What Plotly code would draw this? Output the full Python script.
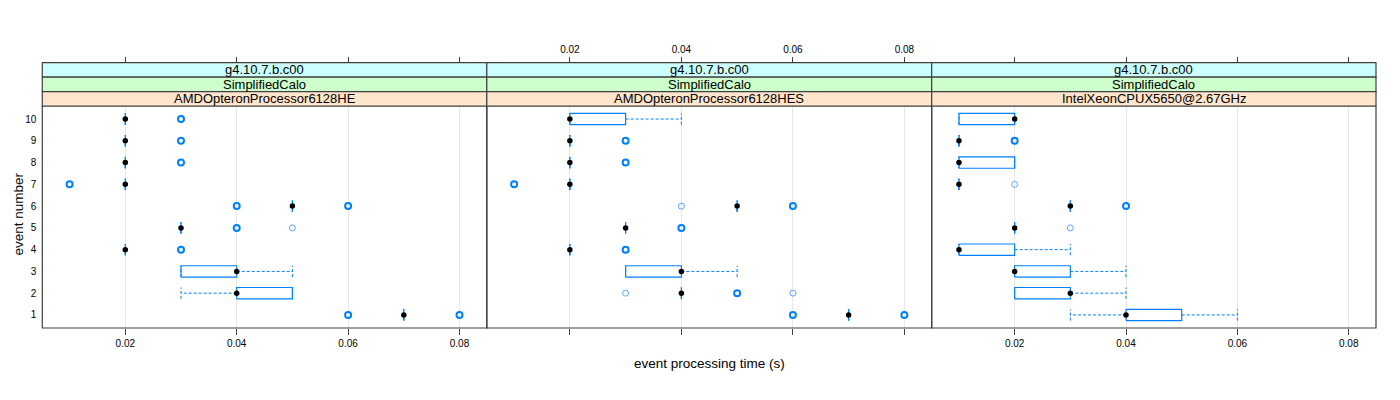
import plotly.graph_objects as go

# ---------------- data ----------------
events = [1, 2, 3, 4, 5, 6, 7, 8, 9, 10]
tick_vals = [0.02, 0.04, 0.06, 0.08]
tick_text = ["0.02", "0.04", "0.06", "0.08"]
strip_top = "g4.10.7.b.c00"
strip_mid = "SimplifiedCalo"
panel_names = ["AMDOpteronProcessor6128HE", "AMDOpteronProcessor6128HES", "IntelXeonCPUX5650@2.67GHz"]

# panel 1: AMDOpteronProcessor6128HE  (per event 1..10)
p1_lo  = [0.07, 0.03, 0.03, 0.02, 0.03, 0.05, 0.02, 0.02, 0.02, 0.02]
p1_q1  = [0.07, 0.04, 0.03, 0.02, 0.03, 0.05, 0.02, 0.02, 0.02, 0.02]
p1_med = [0.07, 0.04, 0.04, 0.02, 0.03, 0.05, 0.02, 0.02, 0.02, 0.02]
p1_q3  = [0.07, 0.05, 0.04, 0.02, 0.03, 0.05, 0.02, 0.02, 0.02, 0.02]
p1_hi  = [0.07, 0.05, 0.05, 0.02, 0.03, 0.05, 0.02, 0.02, 0.02, 0.02]
p1_out_event = [1, 1, 4, 5, 5, 6, 6, 7, 8, 9, 10]
p1_out_value = [0.06, 0.08, 0.03, 0.04, 0.05, 0.04, 0.06, 0.01, 0.03, 0.03, 0.03]
p1_out_count = [2, 2, 2, 2, 1, 2, 2, 2, 2, 2, 2]

# panel 2: AMDOpteronProcessor6128HES
p2_lo  = [0.07, 0.04, 0.03, 0.02, 0.03, 0.05, 0.02, 0.02, 0.02, 0.02]
p2_q1  = [0.07, 0.04, 0.03, 0.02, 0.03, 0.05, 0.02, 0.02, 0.02, 0.02]
p2_med = [0.07, 0.04, 0.04, 0.02, 0.03, 0.05, 0.02, 0.02, 0.02, 0.02]
p2_q3  = [0.07, 0.04, 0.04, 0.02, 0.03, 0.05, 0.02, 0.02, 0.02, 0.03]
p2_hi  = [0.07, 0.04, 0.05, 0.02, 0.03, 0.05, 0.02, 0.02, 0.02, 0.04]
p2_out_event = [1, 1, 2, 2, 2, 4, 5, 6, 6, 7, 8, 9]
p2_out_value = [0.06, 0.08, 0.03, 0.05, 0.06, 0.03, 0.04, 0.04, 0.06, 0.01, 0.03, 0.03]
p2_out_count = [2, 2, 1, 2, 1, 2, 2, 1, 2, 2, 2, 2]

# panel 3: IntelXeonCPUX5650@2.67GHz
p3_lo  = [0.03, 0.02, 0.02, 0.01, 0.02, 0.03, 0.01, 0.01, 0.01, 0.01]
p3_q1  = [0.04, 0.02, 0.02, 0.01, 0.02, 0.03, 0.01, 0.01, 0.01, 0.01]
p3_med = [0.04, 0.03, 0.02, 0.01, 0.02, 0.03, 0.01, 0.01, 0.01, 0.02]
p3_q3  = [0.05, 0.03, 0.03, 0.02, 0.02, 0.03, 0.01, 0.02, 0.01, 0.02]
p3_hi  = [0.06, 0.04, 0.04, 0.03, 0.02, 0.03, 0.01, 0.02, 0.01, 0.02]
p3_out_event = [5, 6, 7, 9]
p3_out_value = [0.03, 0.04, 0.02, 0.02]
p3_out_count = [1, 2, 1, 2]

panels = [
    (p1_lo, p1_q1, p1_med, p1_q3, p1_hi, p1_out_event, p1_out_value, p1_out_count),
    (p2_lo, p2_q1, p2_med, p2_q3, p2_hi, p2_out_event, p2_out_value, p2_out_count),
    (p3_lo, p3_q1, p3_med, p3_q3, p3_hi, p3_out_event, p3_out_value, p3_out_count),
]

# ---------------- style ----------------
OFF = 8  # default page body margin
W, H = 1400 - OFF, 400 - OFF
FONT = "Liberation Sans, Arial, Helvetica, sans-serif"
BLUE = "#0080ff"
FRAME = "#404040"
HALF = 0.26  # half box height in y units
XR = [0.0051, 0.0849]
YR = [0.4, 10.6]
px_edges = [v - OFF for v in [42.3, 486.8, 931.7, 1376.0]]
panel_top, panel_bot = 106.0 - OFF, 328.0 - OFF
strip_edges = [v - OFF for v in [62.7, 77.2, 91.6, 106.0]]
strip_cols = ["#ccffff", "#ccffcc", "#ffe5cc"]

ydom = [1 - panel_bot / H, 1 - panel_top / H]

fig = go.Figure()
layout = dict(
    width=W, height=H, margin=dict(l=0, r=0, t=0, b=0),
    paper_bgcolor="white", plot_bgcolor="white", showlegend=False,
    font=dict(family=FONT, size=10, color="black"),
)
shapes = []
annotations = []

for i, (lo, q1, med, q3, hi, oe, ov, oc) in enumerate(panels):
    n = i + 1
    xa = "x" if n == 1 else f"x{n}"
    ya = "y" if n == 1 else f"y{n}"
    xdom = [px_edges[i] / W, px_edges[i + 1] / W]
    layout["xaxis" if n == 1 else f"xaxis{n}"] = dict(
        domain=xdom, anchor=ya, range=XR, tickvals=tick_vals, ticktext=tick_text,
        showgrid=True, gridcolor="#e8e8e8", gridwidth=1, zeroline=False, showline=False,
        ticks="outside", ticklen=6, tickcolor=FRAME, showticklabels=(n != 2),
        tickfont=dict(size=10), fixedrange=True,
    )
    layout["yaxis" if n == 1 else f"yaxis{n}"] = dict(
        domain=ydom, anchor=xa, range=YR, tickvals=events, ticktext=[str(e) for e in events],
        showgrid=False, zeroline=False, showline=False,
        ticks="outside" if n == 1 else "", ticklen=3, tickcolor="rgba(0,0,0,0)",
        showticklabels=(n == 1), tickfont=dict(size=10), fixedrange=True,
    )
    # top axis
    tn = n + 3
    layout[f"xaxis{tn}"] = dict(
        overlaying=xa, side="top", anchor="free", position=1 - strip_edges[0] / H,
        range=XR, tickvals=tick_vals, ticktext=tick_text, showgrid=False, zeroline=False,
        showline=False, ticks="outside", ticklen=6, tickcolor=FRAME,
        showticklabels=(n == 2), tickfont=dict(size=10), fixedrange=True,
    )
    fig.add_trace(go.Scatter(x=[None], y=[None], xaxis=f"x{tn}", yaxis=ya,
                             mode="markers", hoverinfo="skip", showlegend=False))

    # boxes and whiskers
    bx, by = [], []
    wx, wy = [], []
    for k, ev in enumerate(events):
        bx += [q1[k], q3[k], q3[k], q1[k], q1[k], None]
        by += [ev - HALF, ev - HALF, ev + HALF, ev + HALF, ev - HALF, None]
        wx += [q3[k], hi[k], None, hi[k], hi[k], None,
               q1[k], lo[k], None, lo[k], lo[k], None]
        wy += [ev, ev, None, ev - HALF, ev + HALF, None,
               ev, ev, None, ev - HALF, ev + HALF, None]
    fig.add_trace(go.Scatter(x=wx, y=wy, xaxis=xa, yaxis=ya, mode="lines",
                             line=dict(color=BLUE, width=1, dash="3px,2px"),
                             hoverinfo="skip", showlegend=False))
    fig.add_trace(go.Scatter(x=bx, y=by, xaxis=xa, yaxis=ya, mode="lines",
                             line=dict(color=BLUE, width=1.2),
                             hoverinfo="skip", showlegend=False))
    # outliers
    thick_x = [v for v, c in zip(ov, oc) if c > 1]
    thick_y = [e for e, c in zip(oe, oc) if c > 1]
    thin_x = [v for v, c in zip(ov, oc) if c == 1]
    thin_y = [e for e, c in zip(oe, oc) if c == 1]
    fig.add_trace(go.Scatter(x=thick_x, y=thick_y, xaxis=xa, yaxis=ya, mode="markers",
                             marker=dict(symbol="circle-open", size=6, color=BLUE,
                                         line=dict(width=2, color=BLUE)),
                             hoverinfo="skip", showlegend=False))
    fig.add_trace(go.Scatter(x=thin_x, y=thin_y, xaxis=xa, yaxis=ya, mode="markers",
                             marker=dict(symbol="circle-open", size=6, color="#55a8ff",
                                         line=dict(width=1, color="#55a8ff")),
                             hoverinfo="skip", showlegend=False))
    # medians
    fig.add_trace(go.Scatter(x=med, y=events, xaxis=xa, yaxis=ya, mode="markers",
                             marker=dict(symbol="circle", size=5.5, color="black"),
                             hoverinfo="skip", showlegend=False))

    # frame
    shapes.append(dict(type="rect", xref=f"{xa} domain", yref=f"{ya} domain",
                       x0=0, x1=1, y0=0, y1=1, line=dict(color=FRAME, width=1.2),
                       fillcolor="rgba(0,0,0,0)", layer="above"))
    # strips
    texts = [strip_top, strip_mid, panel_names[i]]
    for s in range(3):
        y0 = 1 - strip_edges[s + 1] / H
        y1 = 1 - strip_edges[s] / H
        shapes.append(dict(type="rect", xref=f"{xa} domain", yref="paper",
                           x0=0, x1=1, y0=y0, y1=y1, fillcolor=strip_cols[s],
                           line=dict(color=FRAME, width=1.2), layer="above"))
        annotations.append(dict(text=texts[s], xref="paper", yref="paper",
                                x=(xdom[0] + xdom[1]) / 2, y=(y0 + y1) / 2,
                                xanchor="center", yanchor="middle", showarrow=False,
                                font=dict(size=13, family=FONT, color="black")))

annotations.append(dict(text="event processing time (s)", xref="paper", yref="paper",
                        x=(709 - OFF) / W, y=1 - (363 - OFF) / H, xanchor="center",
                        yanchor="middle", showarrow=False, font=dict(size=13.5, family=FONT)))
annotations.append(dict(text="event number", xref="paper", yref="paper",
                        x=0, y=1 - (214 - OFF) / H,
                        xanchor="left", yanchor="middle",
                        textangle=-90, showarrow=False, font=dict(size=13.5, family=FONT)))

layout["shapes"] = shapes
layout["annotations"] = annotations
fig.update_layout(**layout)
fig.write_html("out.html", config={"displayModeBar": False})
